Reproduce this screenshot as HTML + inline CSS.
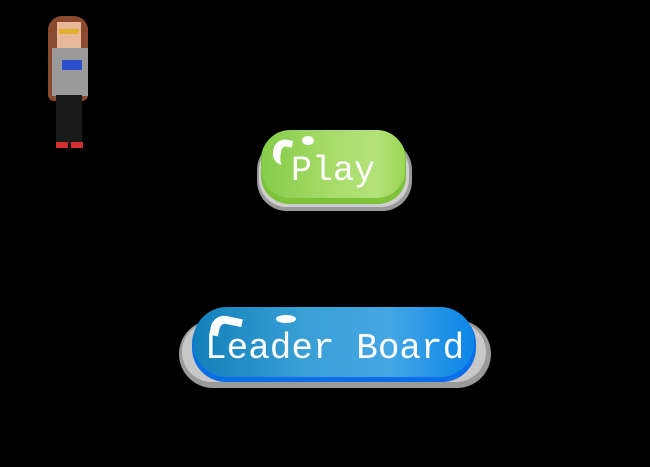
<!DOCTYPE html>
<html><head><style>
body{margin:0;width:650px;height:467px;background:#000;position:relative;overflow:hidden;font-family:"Liberation Mono",monospace}
div{position:absolute;box-sizing:border-box}
.t{color:#fff;white-space:nowrap}
</style></head><body>
<!-- Play -->
<div style="left:257px;top:140px;width:155px;height:71px;border-radius:30px;background:#9a9a9a"></div>
<div style="left:259px;top:142px;width:150px;height:65px;border-radius:28px;background:#cfcfcf"></div>
<div style="left:261px;top:131px;width:145px;height:73px;border-radius:28px;background:#7ec23c"></div>
<div style="left:262px;top:130px;width:143px;height:68px;border-radius:28px;background:linear-gradient(90deg,#86cc4a,#a8dc6a 50%,#b4e27a 80%,#9ad655)"></div>
<div style="left:273px;top:139px;width:18px;height:26px;border-radius:12px 0 0 12px;border-left:8px solid #fff;border-top:7px solid #fff;transform:rotate(10deg)"></div>
<div style="left:302px;top:136px;width:12px;height:9px;border-radius:50%;background:#fff"></div>
<div class="t" style="left:291px;top:151px;font-size:35px;line-height:40px">Play</div>
<!-- Leader Board -->
<div style="left:179px;top:320px;width:312px;height:68px;border-radius:34px;background:#9a9a9a"></div>
<div style="left:182px;top:322px;width:304px;height:60px;border-radius:30px;background:#c8c8c8"></div>
<div style="left:192px;top:310px;width:284px;height:72px;border-radius:34px;background:#0a6ee8"></div>
<div style="left:193px;top:307px;width:281px;height:70px;border-radius:34px;background:linear-gradient(90deg,#1080b8,#3aa0d6 40%,#44a6e4 70%,#0a86e8)"></div>
<div style="left:211px;top:316px;width:30px;height:22px;border-radius:14px 0 0 0;border-left:9px solid #fff;border-top:8px solid #fff;transform:rotate(12deg)"></div>
<div style="left:276px;top:315px;width:20px;height:8px;border-radius:50%;background:#fff"></div>
<div class="t" style="left:205px;top:329px;font-size:36px;line-height:40px">Leader Board</div>
<!-- character -->
<div style="left:48px;top:16px;width:40px;height:85px;background:#8a4a30;border-radius:14px 14px 6px 6px"></div>
<div style="left:57px;top:22px;width:24px;height:28px;background:#e8b898"></div>
<div style="left:59px;top:29px;width:20px;height:5px;background:#e0b030"></div>
<div style="left:52px;top:48px;width:36px;height:48px;background:#9a9a9a"></div>
<div style="left:62px;top:60px;width:20px;height:10px;background:#2a50d0"></div>
<div style="left:56px;top:95px;width:26px;height:50px;background:#1a1a1a"></div>
<div style="left:56px;top:142px;width:12px;height:6px;background:#d03030"></div>
<div style="left:71px;top:142px;width:12px;height:6px;background:#d03030"></div>
</body></html>
